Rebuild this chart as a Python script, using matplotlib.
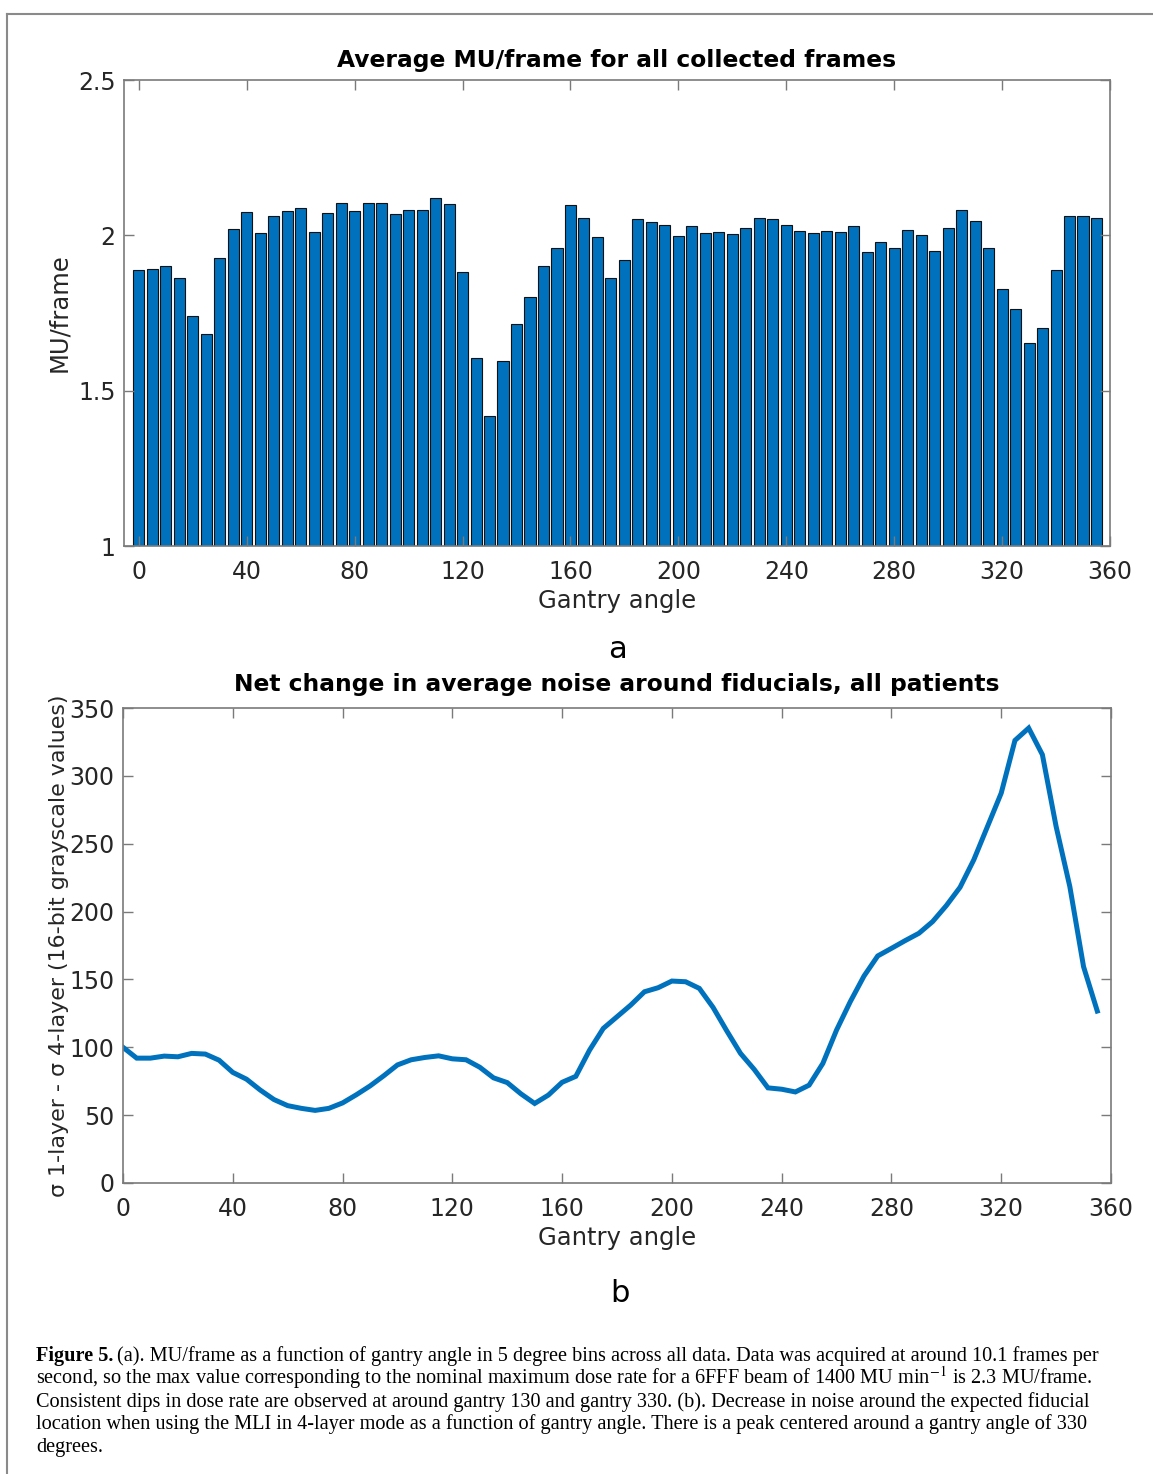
import matplotlib
matplotlib.use("Agg")
import matplotlib.pyplot as plt
from matplotlib.lines import Line2D

# gantry angle bins (5 degree bins)
angles = list(range(0, 360, 5))

# (a) average MU/frame per bin
mu_frame = [1.887, 1.892, 1.900, 1.864, 1.740, 1.682, 1.928, 2.020, 2.075, 2.008,
            2.062, 2.078, 2.089, 2.011, 2.073, 2.103, 2.078, 2.103, 2.103, 2.070,
            2.082, 2.082, 2.119, 2.101, 1.883, 1.606, 1.418, 1.597, 1.714, 1.803,
            1.900, 1.958, 2.097, 2.057, 1.994, 1.864, 1.922, 2.051, 2.042, 2.034,
            1.997, 2.030, 2.006, 2.010, 2.003, 2.025, 2.055, 2.051, 2.034, 2.014,
            2.008, 2.014, 2.012, 2.031, 1.945, 1.977, 1.959, 2.018, 2.000, 1.950,
            2.025, 2.082, 2.045, 1.959, 1.826, 1.764, 1.655, 1.703, 1.888, 2.061,
            2.061, 2.055]

# (b) sigma 1-layer - sigma 4-layer
noise_diff = [100, 92, 92, 93.5, 93, 95.5, 95, 90.5, 81.5, 76.5,
              68.5, 61.5, 57, 55, 53.5, 55, 59, 65, 71.5, 79,
              87, 90.8, 92.5, 93.7, 91.5, 90.8, 85.3, 77.5, 74, 65.7,
              58.6, 64.8, 74.2, 78.6, 97.9, 113.9, 122.5, 131.1, 140.9, 143.9,
              148.8, 148.3, 143.4, 129.4, 112.1, 95.5, 83.7, 70.1, 69.1, 67.1,
              72.1, 88.1, 112.7, 133.6, 152.5, 167.3, 172.9, 178.6, 184, 192.6,
              204.4, 217.9, 238.1, 262.7, 287.3, 326.1, 335.2, 315.6, 262.7, 218.4,
              159.4, 126.7]

xticks = list(range(0, 361, 40))
yticks_a = [1, 1.5, 2, 2.5]
yticklabels_a = ["1", "1.5", "2", "2.5"]
yticks_b = list(range(0, 351, 50))

caption = [
    "(a). MU/frame as a function of gantry angle in 5 degree bins across all data. Data was acquired at around 10.1 frames per",
    "second, so the max value corresponding to the nominal maximum dose rate for a 6FFF beam of 1400 MU min$^{-1}$ is 2.3 MU/frame.",
    "Consistent dips in dose rate are observed at around gantry 130 and gantry 330. (b). Decrease in noise around the expected fiducial",
    "location when using the MLI in 4-layer mode as a function of gantry angle. There is a peak centered around a gantry angle of 330",
    "degrees.",
]

plt.rcParams['font.family'] = ['DejaVu Sans']
plt.rcParams['mathtext.fontset'] = 'stix'

W, H = 1153, 1474
fig = plt.figure(figsize=(W / 100, H / 100), dpi=100)
blue = '#0072BD'
spine_col = '#7a7a7a'
txt_col = '#262626'


def px_rect(l, t, r, b):
    return [l / W, 1 - b / H, (r - l) / W, (b - t) / H]


def style(ax):
    for s in ax.spines.values():
        s.set_color(spine_col)
        s.set_linewidth(1.2)
    ax.tick_params(direction='in', length=7, width=1, color=spine_col,
                   labelcolor=txt_col, labelsize=17, top=True, right=True)
    ax.tick_params(axis='x', pad=10)
    ax.tick_params(axis='y', pad=6)


# panel a
ax1 = fig.add_axes(px_rect(124, 80, 1110, 546))
ax1.bar(angles, mu_frame, width=4.1, color=blue, edgecolor='#111111', linewidth=0.8)
ax1.set_xlim(-5.5, 360)
ax1.set_ylim(1, 2.5)
ax1.set_xticks(xticks)
ax1.set_yticks(yticks_a)
ax1.set_yticklabels(yticklabels_a)
style(ax1)
ax1.set_title('Average MU/frame for all collected frames', fontsize=16.8,
              fontweight='bold', pad=9)
ax1.set_xlabel('Gantry angle', fontsize=17.5, color=txt_col, labelpad=4)
ax1.set_ylabel('MU/frame', fontsize=17.5, color=txt_col, labelpad=5)

# panel b
ax2 = fig.add_axes(px_rect(123, 708, 1111, 1183))
ax2.plot(angles, noise_diff, color=blue, linewidth=3.6, solid_joinstyle='miter')
ax2.set_xlim(0, 360)
ax2.set_ylim(0, 350)
ax2.set_xticks(xticks)
ax2.set_yticks(yticks_b)
style(ax2)
ax2.set_title('Net change in average noise around fiducials, all patients',
              fontsize=16.8, fontweight='bold', pad=12)
ax2.set_xlabel('Gantry angle', fontsize=17.5, color=txt_col, labelpad=4)
ax2.set_ylabel('\u03c3 1-layer - \u03c3 4-layer (16-bit grayscale values)',
               fontsize=15.9, color=txt_col, labelpad=0)

fig.text(617 / W, 1 - 658 / H, 'a', fontsize=22, ha='center', va='baseline')
fig.text(620 / W, 1 - 1302 / H, 'b', fontsize=22, ha='center', va='baseline')

# caption
cap_font = ['Liberation Serif', 'DejaVu Serif']
cap_size = 14.6
base = [1361, 1384, 1407, 1429.5, 1452]
head = fig.text(36 / W, 1 - base[0] / H, 'Figure 5.', fontsize=cap_size, fontweight='bold',
                family=cap_font, va='baseline')
fig.canvas.draw()
hb = head.get_window_extent()
fig.text((hb.x1 + 4) / W, 1 - base[0] / H, caption[0], fontsize=cap_size,
         family=cap_font, va='baseline')
for line, y in zip(caption[1:], base[1:]):
    fig.text(36 / W, 1 - y / H, line, fontsize=cap_size, family=cap_font, va='baseline')

# page frame
fig.add_artist(Line2D([7 / W, 1.0], [1 - 14 / H, 1 - 14 / H],
                      transform=fig.transFigure, color='#8a8a8a', lw=1.5))
fig.add_artist(Line2D([7 / W, 7 / W], [1 - 14 / H, 0.0],
                      transform=fig.transFigure, color='#8a8a8a', lw=1.5))

fig.savefig('out.png', dpi=100)
